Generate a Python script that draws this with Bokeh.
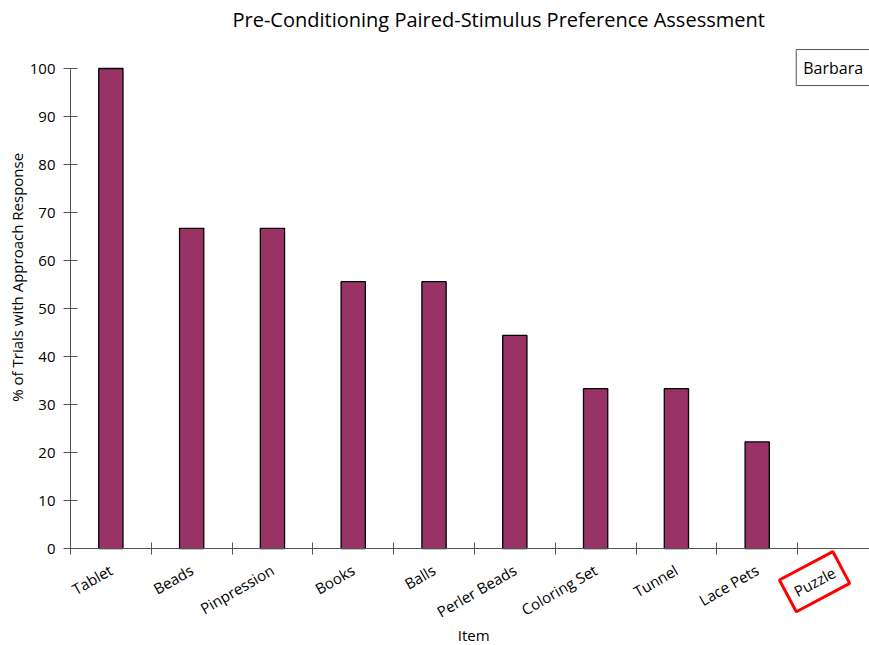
from bokeh.plotting import figure
from bokeh.models import Range1d, FixedTicker, Label
from bokeh.embed import file_html
from bokeh.resources import INLINE
import math

items = ["Tablet", "Beads", "Pinpression", "Books", "Balls", "Perler Beads",
         "Coloring Set", "Tunnel", "Lace Pets", "Puzzle"]
values = [100, 66.7, 66.7, 55.6, 55.6, 44.4, 33.3, 33.3, 22.2, 0]
y_ticks = [0, 10, 20, 30, 40, 50, 60, 70, 80, 90, 100]
highlight = "Puzzle"
legend_name = "Barbara"
title_text = "Pre-Conditioning Paired-Stimulus Preference Assessment"
x_title = "Item"
y_title = "% of Trials with Approach Response"

FONT = "Open Sans"
xs = [i + 0.5 for i in range(len(items))]

p = figure(width=869, height=645, output_backend="svg", toolbar_location=None,
           x_range=Range1d(-0.866, 9.89), y_range=Range1d(-20.2, 114.17),
           min_border_left=0, min_border_right=0, min_border_top=0, min_border_bottom=0)
p.outline_line_color = None
p.xgrid.visible = False
p.ygrid.visible = False

bar_x = [x for x, v in zip(xs, values) if v > 0]
bar_top = [v for v in values if v > 0]
p.vbar(x=bar_x, top=bar_top, width=0.3, fill_color="#993366", line_color="black", line_width=1.3)

labels = {x: (n if n != highlight else "") for x, n in zip(xs, items)}
p.xaxis.fixed_location = 0
p.xaxis.bounds = (0, 9.89)
p.xaxis.ticker = FixedTicker(ticks=xs, minor_ticks=list(range(len(items) + 1)))
p.xaxis.major_label_overrides = labels
p.xaxis.major_tick_in = 0
p.xaxis.major_tick_out = 0
p.xaxis.minor_tick_in = 6
p.xaxis.minor_tick_out = 6
p.xaxis.major_label_standoff = 14
p.xaxis.major_label_orientation = math.radians(30)
p.xaxis.major_label_text_font = FONT
p.xaxis.major_label_text_font_size = "15px"
p.xaxis.major_label_text_color = "black"
p.xaxis.axis_line_color = "#555555"
p.xaxis.minor_tick_line_color = "#555555"

p.yaxis.fixed_location = 0
p.yaxis.bounds = (0, 100)
p.yaxis.ticker = FixedTicker(ticks=y_ticks)
p.yaxis.minor_tick_line_color = None
p.yaxis.major_tick_in = 7
p.yaxis.major_tick_out = 7
p.yaxis.major_label_standoff = 8
p.yaxis.major_label_text_font = FONT
p.yaxis.major_label_text_font_size = "15px"
p.yaxis.major_label_text_color = "black"
p.yaxis.axis_line_color = "#555555"
p.yaxis.major_tick_line_color = "#555555"

p.add_layout(Label(x=5.30, y=110.2, text=title_text, text_align="center",
                   text_baseline="middle", text_font=FONT, text_font_size="20px",
                   text_color="black"))
p.add_layout(Label(x=4.99, y=-18.1, text=x_title, text_align="center",
                   text_baseline="middle", text_font=FONT, text_font_size="15px",
                   text_color="black"))
p.add_layout(Label(x=-0.656, y=56.5, text=y_title, text_align="center",
                   text_baseline="middle", angle=math.pi / 2, text_font=FONT,
                   text_font_size="15px", text_color="black"))

idx = items.index(highlight)
p.add_layout(Label(x=idx + 0.21, y=-6.9, text=highlight, angle=math.radians(28),
                   text_align="center", text_baseline="middle",
                   text_font=FONT, text_font_size="15px", text_color="black",
                   border_line_color="red", border_line_width=3, padding=8))

p.add_layout(Label(x=8.983, y=100.2, text=legend_name, text_align="left",
                   text_baseline="middle", text_font=FONT, text_font_size="16px",
                   text_color="black",
                   border_line_color="#555555", border_line_width=1, padding=7,
                   background_fill_color="white"))

open("out.html", "w").write(file_html(p, INLINE))
